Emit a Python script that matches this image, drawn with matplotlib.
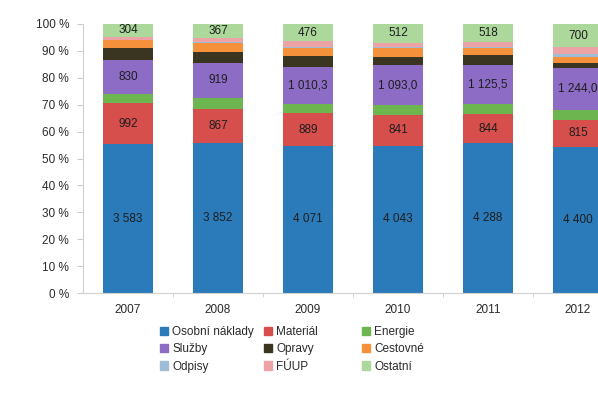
import numpy as np
import matplotlib.pyplot as plt
from matplotlib.patches import Patch

plt.rcParams['font.family'] = ['Liberation Sans', 'DejaVu Sans']

years = ['2007', '2008', '2009', '2010', '2011', '2012']

# costs per category (stacked bottom -> top)
osobni = [3583, 3852, 4071, 4043, 4288, 4400]
material = [992, 867, 889, 841, 844, 815]
energie = [220, 283, 275, 270, 285, 300]
sluzby = [830, 919, 1010.3, 1093.0, 1125.5, 1244.0]
opravy = [280, 262, 300, 240, 285, 150]
cestovne = [195, 240, 220, 220, 200, 180]
odpisy = [15, 20, 30, 30, 30, 110]
fuup = [70, 100, 160, 130, 140, 190]
ostatni = [304, 367, 476, 512, 518, 700]

sluzby_dec = [0, 0, 1, 1, 1, 1]

names = ['Osobní náklady', 'Materiál', 'Energie', 'Služby', 'Opravy',
         'Cestovné', 'Odpisy', 'FÚUP', 'Ostatní']
colors = ['#2b7bba', '#d64f4c', '#6db64f', '#8d6cc6', '#3a3521',
          '#f6913b', '#9fbdd6', '#eba3a6', '#acd89b']

series = [osobni, material, energie, sluzby, opravy, cestovne, odpisy, fuup, ostatni]
data = np.array(series, dtype=float)
pct = data / data.sum(axis=0) * 100


def fmt(v, dec=0):
    if dec:
        s = f'{v:,.1f}'.replace(',', ' ').replace('.', ',')
    else:
        s = f'{v:,.0f}'.replace(',', ' ')
    return s


fig = plt.figure(figsize=(5.98, 3.95), dpi=100)
ax = fig.add_axes([83 / 598, 1 - 293 / 395, 540 / 598, 269 / 395])

x = np.arange(len(years))
bottom = np.zeros(len(years))
for i in range(len(series)):
    ax.bar(x, pct[i], 0.555, bottom=bottom, color=colors[i], linewidth=0)
    if i in (0, 1, 3, 8):
        for j in range(len(years)):
            dec = sluzby_dec[j] if i == 3 else 0
            ax.text(x[j], bottom[j] + pct[i][j] / 2, fmt(data[i][j], dec),
                    ha='center', va='center', fontsize=8.5, color='#1e1e1e')
    bottom += pct[i]

ax.set_xlim(-0.5, len(years) - 0.5)
ax.set_ylim(0, 100)
ax.set_yticks(range(0, 101, 10))
ax.set_yticklabels([f'{t} %' for t in range(0, 101, 10)])
ax.set_xticks(x)
ax.set_xticklabels(years)
ax.set_xticks(np.arange(0.5, len(years) - 0.5, 1), minor=True)
ax.tick_params(axis='x', which='major', length=0, pad=8, labelsize=8.5, labelcolor='#2a2a2a')
ax.tick_params(axis='x', which='minor', length=3, color='#cccccc')
ax.tick_params(axis='y', length=4, color='#cccccc', pad=6, labelsize=8.5, labelcolor='#2a2a2a')
for s in ['top', 'right']:
    ax.spines[s].set_visible(False)
for s in ['left', 'bottom']:
    ax.spines[s].set_color('#d0d0d0')
    ax.spines[s].set_linewidth(0.8)

# legend laid out as three columns
cols = [[0, 3, 6], [1, 4, 7], [2, 5, 8]]
col_x = [160, 264, 362]
for cx, idx in zip(col_x, cols):
    handles = [Patch(color=colors[k], label=names[k]) for k in idx]
    leg = fig.legend(handles=handles, loc='upper left',
                     bbox_to_anchor=(cx / 598, 1 - 326 / 395),
                     frameon=False, fontsize=8.5, handlelength=0.7, handleheight=0.7,
                     handletextpad=0.35, labelspacing=0.45, borderpad=0, borderaxespad=0)
    for t in leg.get_texts():
        t.set_color('#2a2a2a')

fig.savefig('out.png', dpi=100)
